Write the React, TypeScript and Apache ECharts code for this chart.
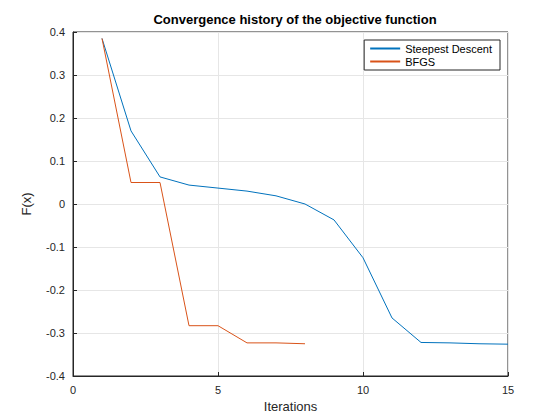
import { useEffect, useRef } from 'react'
import * as echarts from 'echarts'

const sdIter = [1, 2, 3, 4, 5, 6, 7, 8, 9, 10, 11, 12, 13, 14, 15]
const sdValues = [0.385, 0.17, 0.063, 0.044, 0.037, 0.03, 0.019, 0, -0.037, -0.125, -0.265, -0.322, -0.323, -0.325, -0.326]
const bfgsIter = [1, 2, 3, 4, 5, 6, 7, 8]
const bfgsValues = [0.385, 0.05, 0.05, -0.283, -0.283, -0.323, -0.323, -0.325]

export default function App() {
  const ref = useRef<HTMLDivElement>(null)

  useEffect(() => {
    if (!ref.current) return
    const chart = echarts.init(ref.current, null, { renderer: 'svg' })
    const axisCommon = {
      axisLine: { show: true, onZero: false, lineStyle: { color: '#262626' } },
      axisTick: { show: true, inside: true, length: 4, lineStyle: { color: '#262626' } },
      axisLabel: { color: '#262626', fontSize: 11 },
      splitLine: { show: true, lineStyle: { color: '#e6e6e6' } },
      nameTextStyle: { color: '#262626', fontSize: 13 },
    }
    chart.setOption({
      animation: false,
      textStyle: { fontFamily: 'Arial, Liberation Sans, sans-serif' },
      title: {
        text: 'Convergence history of the objective function',
        left: 290, top: 8, textAlign: 'center',
        textStyle: { fontSize: 13, fontWeight: 'bold', color: '#000' },
      },
      grid: { left: 73, right: 52, top: 32, bottom: 44, show: true, borderColor: '#262626', borderWidth: 1 },
      xAxis: {
        type: 'value', min: 0, max: 15, interval: 5,
        name: 'Iterations', nameLocation: 'middle', nameGap: 22,
        ...axisCommon,
      },
      yAxis: {
        type: 'value', min: -0.4, max: 0.4, interval: 0.1,
        name: 'F(x)', nameLocation: 'middle', nameGap: 40,
        ...axisCommon,
        axisLabel: { color: '#262626', fontSize: 11, formatter: (v: number) => String(Math.round(v * 10) / 10) },
      },
      legend: {
        right: 60, top: 40, orient: 'vertical',
        backgroundColor: '#fff', borderColor: '#262626', borderWidth: 1,
        padding: [3, 8, 3, 6], itemGap: 2, itemWidth: 30, itemHeight: 2,
        textStyle: { fontSize: 11, color: '#000' },
        data: [
          { name: 'Steepest Descent', icon: 'rect' },
          { name: 'BFGS', icon: 'rect' },
        ],
      },
      series: [
        {
          name: 'Steepest Descent', type: 'line', showSymbol: false,
          data: sdIter.map((x, i) => [x, sdValues[i]]),
          lineStyle: { color: '#0072bd', width: 1 }, itemStyle: { color: '#0072bd' },
        },
        {
          name: 'BFGS', type: 'line', showSymbol: false,
          data: bfgsIter.map((x, i) => [x, bfgsValues[i]]),
          lineStyle: { color: '#d95319', width: 1 }, itemStyle: { color: '#d95319' },
        },
      ],
    })
    return () => chart.dispose()
  }, [])

  return <div ref={ref} style={{ width: 560, height: 420, margin: -8, background: '#fff' }} />
}
